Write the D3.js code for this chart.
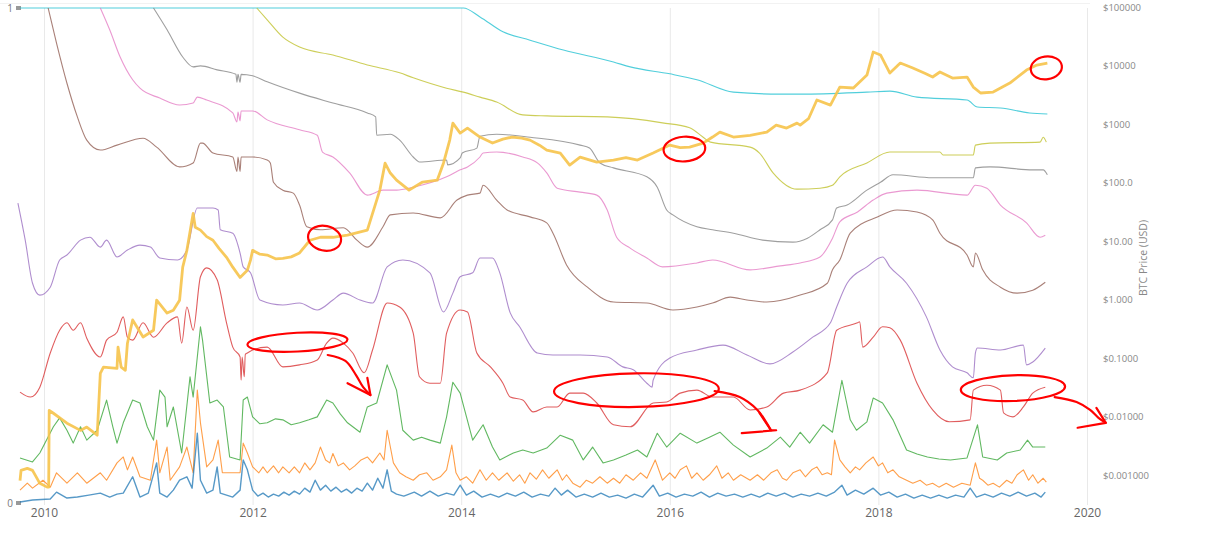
<!DOCTYPE html>
<html>
<head>
<meta charset="utf-8">
<script src="https://cdn.jsdelivr.net/npm/d3@7"></script>
<style>
body { margin: 0; background: #fff; }
svg { display: block; font-family: "Open Sans", sans-serif; }
</style>
</head>
<body>
<svg id="chart" width="1206" height="542"></svg>
<script>
// x values are decimal years, band values are on the left 0..1 axis
var yearTicks = [2010, 2012, 2014, 2016, 2018, 2020];
var priceTicks = [0.001, 0.01, 0.1, 1, 10, 100, 1000, 10000, 100000];
var priceLabels = ["$0.001000", "$0.01000", "$0.1000", "$1.000", "$10.00", "$100.0", "$1000", "$10000", "$100000"];

var bandCyan = [[2009.77,1],[2014.02,1],[2014.18,0.982],[2014.40,0.952],[2014.66,0.935],[2014.98,0.915],[2015.46,0.891],[2015.62,0.881],[2016.0,0.867],[2016.26,0.855],[2016.61,0.830],[2017.06,0.826],[2017.25,0.826],[2017.89,0.830],[2018.11,0.832],[2018.37,0.820],[2018.85,0.814],[2018.95,0.800],[2019.17,0.798],[2019.45,0.788],[2019.62,0.786]];

var bandOlive = [[2012.04,1],[2012.14,0.976],[2012.29,0.941],[2012.45,0.921],[2012.77,0.905],[2013.10,0.885],[2013.41,0.869],[2013.54,0.859],[2013.86,0.838],[2014.02,0.830],[2014.18,0.820],[2014.34,0.810],[2014.59,0.784],[2014.82,0.782],[2015.40,0.780],[2015.93,0.768],[2016.19,0.758],[2016.32,0.739],[2016.39,0.729],[2016.77,0.719],[2016.86,0.707],[2016.99,0.667],[2017.22,0.634],[2017.44,0.636],[2017.56,0.642],[2017.63,0.659],[2017.89,0.687],[2018.11,0.709],[2018.59,0.709],[2018.62,0.703],[2018.91,0.703],[2018.93,0.723],[2019.07,0.727],[2019.55,0.729],[2019.58,0.739],[2019.61,0.729]];

var bandGray = [[2011.05,1],[2011.18,0.956],[2011.33,0.901],[2011.43,0.881],[2011.50,0.883],[2011.66,0.875],[2011.84,0.866],[2011.85,0.850],[2011.86,0.866],[2011.88,0.850],[2011.89,0.866],[2012.00,0.863],[2012.14,0.851],[2012.45,0.828],[2012.77,0.808],[2013.10,0.788],[2013.18,0.780],[2013.19,0.743],[2013.32,0.745],[2013.41,0.733],[2013.54,0.699],[2013.60,0.689],[2013.86,0.693],[2013.87,0.683],[2013.99,0.697],[2014.01,0.707],[2014.15,0.717],[2014.18,0.741],[2014.34,0.745],[2014.66,0.739],[2015.14,0.723],[2015.23,0.717],[2015.33,0.687],[2015.46,0.677],[2015.78,0.659],[2015.88,0.638],[2015.97,0.592],[2016.03,0.582],[2016.26,0.558],[2016.41,0.552],[2016.61,0.545],[2016.89,0.531],[2017.18,0.527],[2017.32,0.535],[2017.44,0.552],[2017.56,0.572],[2017.60,0.596],[2017.70,0.602],[2017.89,0.632],[2018.02,0.648],[2018.14,0.663],[2018.52,0.657],[2018.91,0.657],[2018.93,0.677],[2019.07,0.679],[2019.48,0.673],[2019.58,0.673],[2019.62,0.663]];

var bandPink = [[2010.54,1],[2010.63,0.956],[2010.73,0.901],[2010.85,0.855],[2010.92,0.838],[2011.11,0.818],[2011.30,0.804],[2011.43,0.808],[2011.47,0.820],[2011.56,0.814],[2011.81,0.788],[2011.85,0.770],[2011.86,0.790],[2011.88,0.772],[2011.89,0.792],[2012.00,0.792],[2012.14,0.774],[2012.45,0.754],[2012.62,0.743],[2012.67,0.709],[2012.77,0.699],[2012.93,0.667],[2013.10,0.622],[2013.25,0.632],[2013.38,0.632],[2013.54,0.638],[2013.86,0.659],[2013.99,0.673],[2014.06,0.679],[2014.18,0.699],[2014.21,0.707],[2014.34,0.709],[2014.59,0.699],[2014.73,0.687],[2014.82,0.667],[2014.92,0.636],[2015.14,0.628],[2015.30,0.622],[2015.40,0.592],[2015.49,0.537],[2015.62,0.515],[2015.78,0.495],[2015.93,0.477],[2016.26,0.485],[2016.41,0.491],[2016.77,0.471],[2017.06,0.479],[2017.25,0.485],[2017.44,0.497],[2017.56,0.535],[2017.63,0.568],[2017.80,0.588],[2017.95,0.612],[2018.08,0.626],[2018.37,0.632],[2018.85,0.622],[2018.93,0.642],[2019.04,0.636],[2019.17,0.602],[2019.42,0.566],[2019.55,0.537],[2019.60,0.541]];

var bandBrown = [[2010.04,1],[2010.12,0.929],[2010.22,0.848],[2010.32,0.780],[2010.41,0.733],[2010.54,0.713],[2010.70,0.723],[2010.95,0.737],[2011.08,0.719],[2011.30,0.679],[2011.43,0.687],[2011.50,0.727],[2011.52,0.727],[2011.62,0.707],[2011.81,0.699],[2011.85,0.670],[2011.86,0.699],[2011.88,0.670],[2011.89,0.699],[2012.00,0.699],[2012.14,0.693],[2012.17,0.687],[2012.20,0.648],[2012.29,0.632],[2012.39,0.626],[2012.45,0.602],[2012.52,0.558],[2012.65,0.552],[2012.87,0.556],[2013.00,0.531],[2013.10,0.517],[2013.25,0.558],[2013.32,0.582],[2013.54,0.586],[2013.80,0.576],[2013.96,0.612],[2014.06,0.622],[2014.18,0.626],[2014.21,0.642],[2014.34,0.612],[2014.44,0.592],[2014.66,0.578],[2014.82,0.566],[2014.88,0.545],[2015.01,0.481],[2015.21,0.436],[2015.46,0.406],[2015.78,0.404],[2016.03,0.390],[2016.26,0.396],[2016.41,0.404],[2016.58,0.416],[2016.74,0.410],[2016.93,0.406],[2017.25,0.420],[2017.51,0.444],[2017.56,0.471],[2017.63,0.491],[2017.73,0.545],[2017.99,0.578],[2018.18,0.592],[2018.37,0.588],[2018.52,0.572],[2018.59,0.545],[2018.85,0.501],[2018.91,0.477],[2018.93,0.505],[2019.00,0.471],[2019.17,0.436],[2019.33,0.424],[2019.48,0.430],[2019.60,0.446]];

var bandPurple = [[2009.75,0.606],[2009.82,0.531],[2009.89,0.444],[2009.96,0.420],[2010.06,0.436],[2010.15,0.491],[2010.22,0.501],[2010.35,0.531],[2010.44,0.537],[2010.54,0.517],[2010.60,0.531],[2010.70,0.497],[2010.80,0.511],[2010.92,0.521],[2011.02,0.517],[2011.11,0.495],[2011.28,0.491],[2011.37,0.511],[2011.47,0.596],[2011.62,0.596],[2011.67,0.592],[2011.69,0.552],[2011.81,0.545],[2011.88,0.505],[2011.91,0.477],[2011.98,0.465],[2012.07,0.410],[2012.29,0.400],[2012.45,0.404],[2012.62,0.390],[2012.77,0.410],[2012.87,0.424],[2013.03,0.410],[2013.15,0.404],[2013.29,0.477],[2013.44,0.491],[2013.70,0.465],[2013.83,0.386],[2013.92,0.424],[2013.99,0.457],[2014.11,0.465],[2014.18,0.495],[2014.30,0.495],[2014.37,0.465],[2014.47,0.384],[2014.56,0.356],[2014.73,0.303],[2014.88,0.299],[2015.14,0.299],[2015.40,0.295],[2015.55,0.275],[2015.65,0.269],[2015.78,0.242],[2015.83,0.234],[2015.84,0.248],[2016.00,0.293],[2016.26,0.309],[2016.51,0.319],[2016.74,0.299],[2016.96,0.281],[2017.18,0.305],[2017.37,0.335],[2017.54,0.364],[2017.60,0.396],[2017.70,0.444],[2017.89,0.477],[2018.04,0.497],[2018.11,0.477],[2018.27,0.444],[2018.46,0.376],[2018.59,0.309],[2018.71,0.275],[2018.85,0.263],[2018.91,0.253],[2018.93,0.303],[2018.95,0.313],[2019.17,0.309],[2019.39,0.319],[2019.42,0.279],[2019.48,0.285],[2019.60,0.313]];

var bandRed = [[2009.77,0.224],[2009.87,0.214],[2009.96,0.234],[2010.06,0.303],[2010.15,0.349],[2010.22,0.364],[2010.28,0.349],[2010.35,0.364],[2010.41,0.333],[2010.54,0.295],[2010.60,0.329],[2010.70,0.345],[2010.76,0.376],[2010.80,0.335],[2010.85,0.329],[2010.95,0.364],[2011.05,0.335],[2011.18,0.364],[2011.28,0.376],[2011.32,0.323],[2011.37,0.396],[2011.43,0.349],[2011.50,0.457],[2011.56,0.475],[2011.66,0.451],[2011.75,0.364],[2011.81,0.315],[2011.88,0.295],[2011.89,0.248],[2011.90,0.295],[2011.92,0.255],[2011.93,0.300],[2011.95,0.303],[2012.00,0.309],[2012.14,0.315],[2012.29,0.275],[2012.45,0.279],[2012.62,0.289],[2012.71,0.323],[2012.77,0.333],[2012.87,0.323],[2012.96,0.303],[2013.07,0.263],[2013.15,0.309],[2013.29,0.404],[2013.41,0.396],[2013.54,0.343],[2013.60,0.255],[2013.70,0.242],[2013.80,0.242],[2013.86,0.343],[2013.99,0.390],[2014.06,0.386],[2014.15,0.303],[2014.28,0.275],[2014.40,0.242],[2014.47,0.214],[2014.59,0.208],[2014.69,0.184],[2014.82,0.194],[2014.92,0.194],[2015.04,0.222],[2015.17,0.222],[2015.30,0.202],[2015.46,0.158],[2015.62,0.154],[2015.84,0.202],[2015.97,0.204],[2016.10,0.222],[2016.26,0.228],[2016.41,0.214],[2016.61,0.214],[2016.77,0.188],[2016.93,0.194],[2017.09,0.222],[2017.25,0.228],[2017.51,0.263],[2017.60,0.349],[2017.80,0.364],[2017.82,0.366],[2017.85,0.315],[2017.95,0.335],[2018.04,0.356],[2018.11,0.354],[2018.21,0.329],[2018.37,0.242],[2018.52,0.188],[2018.68,0.164],[2018.88,0.168],[2018.91,0.228],[2019.04,0.238],[2019.17,0.228],[2019.20,0.182],[2019.29,0.174],[2019.39,0.194],[2019.48,0.222],[2019.60,0.234]];

var bandGreen = [[2009.77,0.091],[2009.89,0.083],[2009.96,0.101],[2010.09,0.154],[2010.15,0.172],[2010.22,0.147],[2010.28,0.121],[2010.35,0.154],[2010.41,0.127],[2010.51,0.147],[2010.60,0.208],[2010.66,0.154],[2010.70,0.121],[2010.76,0.162],[2010.85,0.208],[2010.92,0.202],[2010.99,0.154],[2011.05,0.127],[2011.11,0.228],[2011.16,0.214],[2011.18,0.154],[2011.24,0.194],[2011.32,0.101],[2011.40,0.255],[2011.43,0.214],[2011.50,0.356],[2011.52,0.329],[2011.59,0.202],[2011.66,0.208],[2011.72,0.194],[2011.78,0.093],[2011.88,0.087],[2011.91,0.208],[2011.95,0.214],[2012.00,0.174],[2012.07,0.160],[2012.14,0.162],[2012.22,0.170],[2012.29,0.168],[2012.37,0.158],[2012.45,0.162],[2012.54,0.168],[2012.62,0.174],[2012.71,0.208],[2012.77,0.202],[2012.84,0.180],[2012.91,0.162],[2013.03,0.143],[2013.10,0.194],[2013.19,0.202],[2013.29,0.279],[2013.38,0.228],[2013.44,0.147],[2013.54,0.127],[2013.62,0.133],[2013.70,0.127],[2013.80,0.121],[2013.86,0.174],[2013.92,0.244],[2013.99,0.222],[2014.11,0.127],[2014.21,0.158],[2014.30,0.113],[2014.37,0.087],[2014.50,0.101],[2014.59,0.107],[2014.69,0.101],[2014.82,0.111],[2014.95,0.137],[2015.07,0.127],[2015.17,0.087],[2015.26,0.113],[2015.36,0.081],[2015.46,0.087],[2015.58,0.097],[2015.69,0.107],[2015.78,0.093],[2015.88,0.141],[2015.97,0.113],[2016.10,0.141],[2016.26,0.121],[2016.38,0.133],[2016.48,0.143],[2016.61,0.117],[2016.77,0.093],[2016.93,0.111],[2017.06,0.133],[2017.15,0.113],[2017.25,0.143],[2017.34,0.121],[2017.47,0.158],[2017.56,0.143],[2017.65,0.248],[2017.73,0.168],[2017.79,0.147],[2017.89,0.164],[2017.95,0.212],[2018.04,0.202],[2018.14,0.168],[2018.27,0.107],[2018.37,0.099],[2018.47,0.093],[2018.58,0.089],[2018.69,0.087],[2018.85,0.091],[2018.95,0.158],[2019.00,0.093],[2019.14,0.087],[2019.23,0.101],[2019.36,0.107],[2019.43,0.127],[2019.48,0.113],[2019.60,0.113]];

var bandOrange = [[2009.77,0.026],[2009.84,0.040],[2009.89,0.030],[2009.99,0.046],[2010.06,0.032],[2010.12,0.061],[2010.22,0.040],[2010.32,0.061],[2010.41,0.040],[2010.54,0.061],[2010.60,0.046],[2010.70,0.081],[2010.76,0.093],[2010.80,0.067],[2010.85,0.093],[2010.92,0.053],[2011.02,0.046],[2011.08,0.127],[2011.11,0.061],[2011.18,0.113],[2011.21,0.046],[2011.30,0.073],[2011.37,0.113],[2011.43,0.061],[2011.47,0.228],[2011.50,0.162],[2011.56,0.073],[2011.62,0.087],[2011.67,0.127],[2011.71,0.061],[2011.78,0.061],[2011.88,0.061],[2011.91,0.121],[2011.95,0.101],[2012.00,0.073],[2012.06,0.061],[2012.10,0.073],[2012.14,0.061],[2012.20,0.075],[2012.25,0.061],[2012.29,0.073],[2012.35,0.061],[2012.40,0.073],[2012.45,0.061],[2012.50,0.081],[2012.55,0.067],[2012.60,0.081],[2012.65,0.113],[2012.70,0.087],[2012.74,0.081],[2012.77,0.100],[2012.82,0.075],[2012.87,0.081],[2012.93,0.067],[2012.98,0.075],[2013.04,0.087],[2013.10,0.093],[2013.15,0.081],[2013.22,0.101],[2013.26,0.087],[2013.29,0.147],[2013.35,0.081],[2013.41,0.061],[2013.47,0.053],[2013.54,0.046],[2013.60,0.057],[2013.67,0.061],[2013.73,0.046],[2013.80,0.053],[2013.86,0.067],[2013.91,0.117],[2013.95,0.061],[2013.99,0.046],[2014.05,0.053],[2014.11,0.040],[2014.18,0.067],[2014.24,0.046],[2014.30,0.061],[2014.36,0.046],[2014.44,0.061],[2014.50,0.044],[2014.56,0.057],[2014.61,0.040],[2014.66,0.061],[2014.72,0.048],[2014.78,0.067],[2014.84,0.050],[2014.92,0.067],[2014.97,0.046],[2015.01,0.057],[2015.07,0.040],[2015.14,0.032],[2015.20,0.046],[2015.26,0.040],[2015.33,0.053],[2015.40,0.040],[2015.46,0.050],[2015.52,0.040],[2015.58,0.057],[2015.65,0.046],[2015.72,0.061],[2015.78,0.050],[2015.86,0.087],[2015.93,0.046],[2016.00,0.061],[2016.05,0.050],[2016.10,0.067],[2016.16,0.075],[2016.21,0.050],[2016.26,0.061],[2016.32,0.046],[2016.38,0.057],[2016.45,0.075],[2016.50,0.050],[2016.56,0.061],[2016.61,0.046],[2016.68,0.057],[2016.77,0.046],[2016.84,0.057],[2016.90,0.046],[2016.97,0.061],[2017.03,0.067],[2017.08,0.050],[2017.12,0.046],[2017.18,0.061],[2017.25,0.067],[2017.30,0.053],[2017.36,0.067],[2017.41,0.073],[2017.46,0.057],[2017.51,0.061],[2017.55,0.057],[2017.58,0.127],[2017.63,0.087],[2017.68,0.073],[2017.73,0.061],[2017.78,0.073],[2017.82,0.067],[2017.88,0.081],[2017.95,0.093],[2018.00,0.075],[2018.04,0.081],[2018.09,0.061],[2018.14,0.067],[2018.20,0.053],[2018.27,0.046],[2018.33,0.040],[2018.40,0.046],[2018.46,0.036],[2018.52,0.040],[2018.58,0.032],[2018.65,0.040],[2018.72,0.032],[2018.80,0.040],[2018.88,0.036],[2018.93,0.081],[2018.97,0.050],[2019.00,0.046],[2019.05,0.036],[2019.10,0.040],[2019.16,0.032],[2019.23,0.046],[2019.28,0.040],[2019.33,0.057],[2019.39,0.067],[2019.44,0.046],[2019.48,0.057],[2019.53,0.040],[2019.58,0.050],[2019.61,0.042]];

var bandBlue = [[2009.77,0.002],[2009.89,0.006],[2010.06,0.008],[2010.12,0.022],[2010.22,0.010],[2010.32,0.012],[2010.43,0.016],[2010.54,0.020],[2010.63,0.012],[2010.70,0.018],[2010.76,0.020],[2010.85,0.053],[2010.92,0.012],[2011.00,0.020],[2011.08,0.081],[2011.11,0.020],[2011.18,0.012],[2011.24,0.026],[2011.30,0.046],[2011.37,0.053],[2011.42,0.030],[2011.47,0.141],[2011.50,0.046],[2011.56,0.020],[2011.62,0.026],[2011.66,0.073],[2011.69,0.020],[2011.75,0.016],[2011.81,0.012],[2011.88,0.026],[2011.91,0.087],[2011.95,0.067],[2012.00,0.026],[2012.05,0.014],[2012.10,0.020],[2012.15,0.012],[2012.20,0.018],[2012.25,0.014],[2012.30,0.022],[2012.35,0.016],[2012.40,0.024],[2012.45,0.018],[2012.50,0.030],[2012.55,0.022],[2012.60,0.046],[2012.65,0.026],[2012.70,0.036],[2012.75,0.024],[2012.80,0.032],[2012.85,0.022],[2012.90,0.028],[2012.95,0.020],[2013.00,0.030],[2013.05,0.024],[2013.10,0.040],[2013.15,0.026],[2013.20,0.050],[2013.25,0.030],[2013.29,0.067],[2013.33,0.024],[2013.38,0.018],[2013.45,0.014],[2013.55,0.022],[2013.62,0.014],[2013.70,0.024],[2013.78,0.014],[2013.86,0.020],[2013.93,0.016],[2013.99,0.036],[2014.05,0.016],[2014.12,0.024],[2014.20,0.012],[2014.28,0.018],[2014.36,0.012],[2014.44,0.020],[2014.52,0.014],[2014.60,0.022],[2014.68,0.012],[2014.76,0.018],[2014.84,0.014],[2014.90,0.030],[2014.96,0.016],[2015.02,0.026],[2015.10,0.012],[2015.18,0.018],[2015.26,0.012],[2015.34,0.020],[2015.42,0.012],[2015.50,0.016],[2015.58,0.010],[2015.66,0.018],[2015.74,0.012],[2015.84,0.036],[2015.90,0.014],[2015.98,0.020],[2016.06,0.012],[2016.14,0.018],[2016.22,0.014],[2016.30,0.022],[2016.38,0.012],[2016.46,0.020],[2016.54,0.014],[2016.62,0.018],[2016.70,0.012],[2016.78,0.018],[2016.86,0.012],[2016.94,0.020],[2017.02,0.014],[2017.10,0.020],[2017.18,0.012],[2017.26,0.018],[2017.34,0.014],[2017.42,0.020],[2017.50,0.014],[2017.58,0.022],[2017.65,0.036],[2017.70,0.016],[2017.78,0.026],[2017.86,0.018],[2017.95,0.030],[2018.02,0.016],[2018.10,0.022],[2018.18,0.012],[2018.26,0.018],[2018.34,0.010],[2018.42,0.016],[2018.50,0.010],[2018.58,0.016],[2018.66,0.010],[2018.74,0.016],[2018.82,0.012],[2018.88,0.030],[2018.94,0.012],[2019.02,0.018],[2019.10,0.012],[2019.18,0.020],[2019.26,0.014],[2019.34,0.022],[2019.42,0.014],[2019.50,0.020],[2019.56,0.012],[2019.60,0.022]];

// BTC price in USD on the right log axis
var btcPrice = [[2009.77,0.0008],[2009.78,0.0012],[2009.84,0.0013],[2009.89,0.0012],[2009.96,0.00072],[2010.03,0.00062],[2010.045,0.00062],[2010.05,0.0128],[2010.09,0.0114],[2010.22,0.0077],[2010.35,0.0058],[2010.41,0.0066],[2010.51,0.0048],[2010.54,0.055],[2010.57,0.070],[2010.70,0.067],[2010.71,0.154],[2010.74,0.070],[2010.78,0.062],[2010.80,0.18],[2010.85,0.45],[2010.95,0.23],[2011.05,0.30],[2011.08,0.98],[2011.18,0.59],[2011.24,0.66],[2011.30,0.98],[2011.33,3.6],[2011.37,7.0],[2011.43,30],[2011.45,17.4],[2011.50,15.5],[2011.56,12.0],[2011.62,10.4],[2011.68,7.5],[2011.75,5.3],[2011.81,3.6],[2011.88,2.4],[2011.95,3.2],[2011.98,4.75],[2012.00,7.0],[2012.07,6.0],[2012.14,5.8],[2012.22,5.0],[2012.29,5.1],[2012.37,5.4],[2012.45,6.3],[2012.55,10.4],[2012.65,11.7],[2012.77,11.7],[2012.91,12.7],[2013.10,15.5],[2013.22,75],[2013.27,217],[2013.32,147],[2013.38,111],[2013.50,75],[2013.63,103],[2013.77,111],[2013.83,217],[2013.89,538],[2013.92,1050],[2013.99,710],[2014.06,865],[2014.18,607],[2014.30,479],[2014.40,560],[2014.49,607],[2014.58,580],[2014.66,538],[2014.75,440],[2014.82,363],[2014.95,323],[2015.04,201],[2015.14,276],[2015.22,250],[2015.30,226],[2015.46,245],[2015.58,270],[2015.69,245],[2015.84,323],[2016.00,443],[2016.10,400],[2016.19,409],[2016.32,479],[2016.41,607],[2016.48,738],[2016.61,607],[2016.77,650],[2016.93,738],[2017.02,973],[2017.12,865],[2017.22,1050],[2017.25,973],[2017.33,1250],[2017.41,2610],[2017.54,2140],[2017.63,4350],[2017.76,4190],[2017.89,6990],[2017.95,17300],[2018.02,15400],[2018.11,7550],[2018.21,11200],[2018.33,9200],[2018.45,7400],[2018.52,6460],[2018.59,7870],[2018.71,6210],[2018.85,6460],[2018.91,4350],[2018.98,3440],[2019.10,3570],[2019.26,5090],[2019.42,8510],[2019.52,10350],[2019.62,11200]];

// hand-drawn red marks, in the same year / band units
var noteRings = [
  { year: 2012.69, value: 0.535, rx: 0.16, ry: 0.025, tilt: 12 },
  { year: 2016.14, value: 0.715, rx: 0.20, ry: 0.025, tilt: -4 },
  { year: 2019.61, value: 0.879, rx: 0.15, ry: 0.023, tilt: -8 },
  { year: 2012.43, value: 0.325, rx: 0.48, ry: 0.019, tilt: -3 },
  { year: 2015.68, value: 0.228, rx: 0.79, ry: 0.034, tilt: -1 },
  { year: 2019.29, value: 0.232, rx: 0.50, ry: 0.026, tilt: -2 }
];
var noteArrows = [
  [[2012.72,0.299],[2012.89,0.287],[2012.99,0.259],[2013.06,0.234],[2013.13,0.218]],
  [[2016.43,0.226],[2016.67,0.214],[2016.84,0.188],[2016.91,0.168],[2016.97,0.147]],
  [[2019.69,0.214],[2019.90,0.204],[2020.03,0.188],[2020.11,0.172],[2020.18,0.162]]
];
var noteHeads = [
  [[2012.91,0.242],[2013.13,0.218],[2013.10,0.253]],
  [[2016.69,0.141],[2017.02,0.147],[2016.97,0.147],[2016.86,0.182]],
  [[2019.91,0.152],[2020.18,0.162],[2020.09,0.192]]
];

// smooth: the slow bands; jagged: the short, noisy ones
var bands = [
  { data: bandCyan, color: "#17becf", width: 1.1, smooth: true },
  { data: bandOlive, color: "#bcbd22", width: 1.1, smooth: true },
  { data: bandGray, color: "#7f7f7f", width: 1.1, smooth: true },
  { data: bandPink, color: "#e377c2", width: 1.1, smooth: true },
  { data: bandBrown, color: "#8c564b", width: 1.1, smooth: true },
  { data: bandPurple, color: "#9467bd", width: 1.1, smooth: true },
  { data: bandRed, color: "#d62728", width: 1.1, smooth: true },
  { data: bandGreen, color: "#2ca02c", width: 1.1, smooth: false },
  { data: bandOrange, color: "#ff7f0e", width: 1.1, smooth: false },
  { data: bandBlue, color: "#1f77b4", width: 1.4, smooth: false }
];

var svg = d3.select("#chart");

var x = d3.scaleLinear().domain([2010, 2020]).range([44, 1087]);
var y = d3.scaleLinear().domain([0, 1]).range([503, 8]);
var yPrice = d3.scaleLog().domain([0.001, 100000]).range([475, 7.5]);

// faint frame line at the top
svg.append("line")
    .attr("x1", 0).attr("x2", 1090)
    .attr("y1", 3.5).attr("y2", 3.5)
    .attr("stroke", "#f2f2f2");

// vertical grid
svg.append("g").selectAll("line").data(yearTicks).enter()
    .append("line")
    .attr("x1", function(d) { return x(d) + 0.5 })
    .attr("x2", function(d) { return x(d) + 0.5 })
    .attr("y1", 8)
    .attr("y2", 505)
    .attr("stroke", "#e9e9e9");

// x axis labels
var gx = svg.append("g")
    .attr("transform", "translate(0,505)")
    .call(d3.axisBottom(x).tickValues(yearTicks).tickFormat(d3.format("d")).tickSize(0).tickPadding(3));
gx.select(".domain").remove();
gx.selectAll("text").attr("font-size", 12).attr("fill", "#666").attr("font-family", "Open Sans, sans-serif");

// right price axis
var gy = svg.append("g")
    .attr("transform", "translate(1103,0)")
    .call(d3.axisRight(yPrice).tickValues(priceTicks)
        .tickFormat(function(d, i) { return priceLabels[i] })
        .tickSize(0).tickPadding(0));
gy.select(".domain").remove();
gy.selectAll("text").attr("font-size", 9.5).attr("fill", "#888").attr("font-family", "Open Sans, sans-serif");

svg.append("text")
    .attr("transform", "translate(1147,258) rotate(-90)")
    .attr("text-anchor", "middle")
    .attr("font-size", 10.5)
    .attr("fill", "#888")
    .text("BTC Price (USD)");

// left 0..1 axis
var gl = svg.append("g")
    .attr("transform", "translate(15,0)")
    .call(d3.axisLeft(y).tickValues([0, 1]).tickFormat(d3.format("d")).tickSize(0).tickPadding(2));
gl.select(".domain").remove();
gl.selectAll("text").attr("font-size", 10).attr("fill", "#777").attr("font-family", "Open Sans, sans-serif");
svg.append("g").selectAll("rect").data([0, 1]).enter()
    .append("rect")
    .attr("x", 16)
    .attr("y", function(d) { return y(d) - 2 })
    .attr("width", 5)
    .attr("height", 4)
    .attr("fill", "#999");

var line = d3.line()
    .x(function(d) { return x(d[0]) })
    .y(function(d) { return y(d[1]) });

var smooth = d3.line()
    .x(function(d) { return x(d[0]) })
    .y(function(d) { return y(d[1]) })
    .curve(d3.curveMonotoneX);

svg.append("g").selectAll("path").data(bands).enter()
    .append("path")
    .attr("d", function(d) { return d.smooth ? smooth(d.data) : line(d.data) })
    .attr("fill", "none")
    .attr("stroke", function(d) { return d.color })
    .attr("stroke-width", function(d) { return d.width })
    .attr("stroke-opacity", 0.75)
    .attr("stroke-linejoin", "round");

var priceLine = d3.line()
    .x(function(d) { return x(d[0]) })
    .y(function(d) { return yPrice(d[1]) });

svg.append("path")
    .datum(btcPrice)
    .attr("d", priceLine)
    .attr("fill", "none")
    .attr("stroke", "#f6c34a")
    .attr("stroke-width", 2.8)
    .attr("stroke-opacity", 0.9)
    .attr("stroke-linejoin", "round");

// red annotations
var notes = svg.append("g")
    .attr("fill", "none")
    .attr("stroke", "#ff0000")
    .attr("stroke-width", 2.2)
    .attr("stroke-linecap", "round")
    .attr("stroke-linejoin", "round");

notes.selectAll("ellipse").data(noteRings).enter()
    .append("ellipse")
    .attr("transform", function(d) {
        return "translate(" + x(d.year) + "," + y(d.value) + ") rotate(" + d.tilt + ")";
    })
    .attr("rx", function(d) { return x(d.year + d.rx) - x(d.year) })
    .attr("ry", function(d) { return y(0) - y(d.ry) });

var noteCurve = d3.line()
    .x(function(d) { return x(d[0]) })
    .y(function(d) { return y(d[1]) })
    .curve(d3.curveCatmullRom);

notes.selectAll("path.arrow").data(noteArrows).enter()
    .append("path")
    .attr("class", "arrow")
    .attr("d", noteCurve);

notes.selectAll("path.head").data(noteHeads).enter()
    .append("path")
    .attr("class", "head")
    .attr("d", line);
</script>
</body>
</html>
